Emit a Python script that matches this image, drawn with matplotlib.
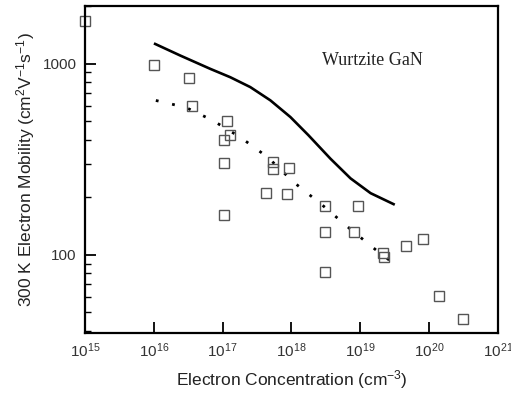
import matplotlib
matplotlib.use("Agg")
import matplotlib.pyplot as plt
from matplotlib.ticker import LogLocator, NullFormatter, FixedLocator

plt.rcParams['font.family'] = ['Liberation Sans', 'DejaVu Sans']
plt.rcParams['mathtext.fontset'] = 'custom'
plt.rcParams['mathtext.rm'] = 'Liberation Sans'
plt.rcParams['mathtext.it'] = 'Liberation Sans'

# measured mobility data (squares)
conc_data = [1e15, 1.0e16, 3.2e16, 3.6e16, 1.17e17, 1.26e17, 1.05e17, 1.05e17, 1.05e17,
             5.3e17, 5.3e17, 9.3e17, 4.2e17, 8.7e17, 3.1e18, 9.1e18, 3.1e18, 8e18,
             2.1e19, 2.2e19, 4.6e19, 8.1e19, 3.1e18, 1.4e20, 3.1e20]
mob_data = [1675, 988, 845, 597, 499, 422, 397, 301, 161,
            305, 280, 284, 210, 208, 180, 180, 132, 132,
            102, 97, 111, 121, 81, 61, 46]

# calculated curve (solid)
conc_calc = [1.045e16, 2.42e16, 6.6e16, 1.29e17, 2.52e17, 4.93e17, 9.64e17, 1.76e18,
             3.68e18, 7.2e18, 1.41e19, 3.04e19]
mob_calc = [1266, 1101, 938, 848, 753, 642, 525, 422, 318, 251, 210, 184]

# fit curve (dotted)
conc_fit = [1.07e16, 2.9e16, 7.1e16, 1.8e17, 4.5e17, 1.07e18, 2.8e18, 7.2e18, 1.8e19, 2.95e19]
mob_fit = [641, 590, 505, 412, 324, 240, 182, 136, 104, 91]

fig = plt.figure(figsize=(5.11, 3.96), dpi=100)
ax = fig.add_axes([0.1663, 0.159, 0.8083, 0.826])

ax.plot(conc_calc, mob_calc, '-', color='black', lw=1.9)
ax.plot(conc_fit, mob_fit, color='black', lw=2, linestyle=(0, (1, 5)))
ax.plot(conc_data, mob_data, 's', markersize=7.5, markerfacecolor='none',
        markeredgecolor='#555555', markeredgewidth=1.0, clip_on=False)

ax.set_xscale('log')
ax.set_yscale('log')
ax.set_xlim(1e15, 1e21)
ax.set_ylim(39, 2000)

ax.xaxis.set_major_locator(FixedLocator([10.0**k for k in range(15, 22)]))
ax.xaxis.set_minor_locator(FixedLocator([]))
ax.set_xticklabels(['$10^{%d}$' % k for k in range(15, 22)])
ax.yaxis.set_major_locator(FixedLocator([100, 1000]))
ax.yaxis.set_minor_locator(LogLocator(base=10, subs=range(2, 10)))
ax.yaxis.set_minor_formatter(NullFormatter())
ax.set_yticklabels(['100', '1000'])

ax.tick_params(axis='both', which='major', direction='in', length=8, width=1.3,
               labelsize=11, labelcolor='#333333', pad=6)
ax.tick_params(axis='y', which='minor', direction='in', length=4, width=1.0)
for s in ax.spines.values():
    s.set_linewidth(1.6)

ax.set_xlabel('Electron Concentration (cm$^{-3}$)', fontsize=12.5, color='#222222', labelpad=6)
ax.set_ylabel('300 K Electron Mobility (cm$^{2}$V$^{-1}$s$^{-1}$)', fontsize=12.5,
              color='#222222', labelpad=4)

ax.text(1.5e19, 1036, 'Wurtzite GaN', fontsize=13, family='Liberation Serif',
        ha='center', va='center', color='#222222')

fig.savefig('out.png', dpi=100)
